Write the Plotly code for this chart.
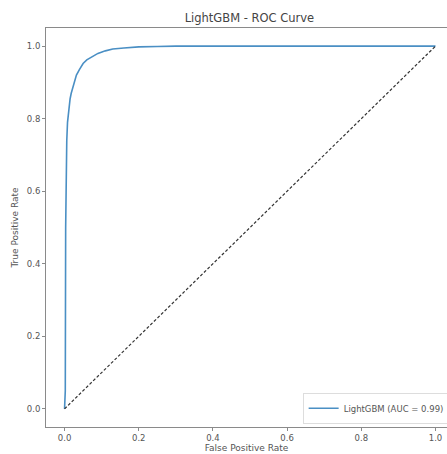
import plotly.graph_objects as go

fpr = [0.0, 0.002, 0.003, 0.004, 0.006, 0.008, 0.010, 0.012, 0.015, 0.018, 0.022, 0.026,
       0.032, 0.040, 0.050, 0.060, 0.075, 0.090, 0.110, 0.130, 0.160, 0.200, 0.250, 0.300, 1.0]
tpr = [0.0, 0.05, 0.50, 0.66, 0.74, 0.79, 0.815, 0.835, 0.855, 0.87, 0.885, 0.905,
       0.92, 0.935, 0.952, 0.962, 0.972, 0.980, 0.987, 0.992, 0.995, 0.998, 0.999, 1.0, 1.0]
diag = [0.0, 1.0]
xticks = [0.0, 0.2, 0.4, 0.6, 0.8, 1.0]
yticks = [0.0, 0.2, 0.4, 0.6, 0.8, 1.0]
tick_text = ["0.0", "0.2", "0.4", "0.6", "0.8", "1.0"]

font = "DejaVu Sans, Liberation Sans, sans-serif"
fig = go.Figure()
fig.add_trace(go.Scatter(x=fpr, y=tpr, mode="lines", name="LightGBM (AUC = 0.99)",
                         line=dict(color="#4a8fc4", width=1.6)))
fig.add_trace(go.Scatter(x=diag, y=diag, mode="lines", showlegend=False,
                         line=dict(color="#333333", width=1.2, dash="3px,2px")))

axis_common = dict(showgrid=False, zeroline=False, showline=True, linecolor="#8a8a8a",
                   linewidth=1, ticks="outside", ticklen=3, tickcolor="#8a8a8a",
                   automargin=False,
                   tickfont=dict(size=8.5, color="#555", family=font))
fig.update_layout(
    width=447, height=454,
    margin=dict(l=46, r=0, t=28, b=27, autoexpand=False),
    paper_bgcolor="white", plot_bgcolor="white",
    title=dict(text="LightGBM - ROC Curve", x=0.558, xanchor="center", y=0.96, yanchor="middle",
               font=dict(size=11.5, color="#444", family=font)),
    xaxis=dict(range=[-0.05, 1.031], tickvals=xticks, ticktext=tick_text, mirror=True,
               title=dict(text="False Positive Rate", standoff=2, font=dict(size=9, color="#555", family=font)),
               **axis_common),
    yaxis=dict(range=[-0.05, 1.05], tickvals=yticks, ticktext=tick_text,
               title=dict(text="True Positive Rate", standoff=6, font=dict(size=9, color="#555", family=font)),
               **axis_common),
    legend=dict(x=0.64, y=0.008, xanchor="left", yanchor="bottom", bgcolor="white",
                bordercolor="#dddddd", borderwidth=1, font=dict(size=8.5, color="#555", family=font),
                itemwidth=30, tracegroupgap=0),
    showlegend=True,
)
fig.write_html("out.html", config={"displayModeBar": False},
               post_script="document.body.style.margin='0';document.body.style.overflow='hidden';")
